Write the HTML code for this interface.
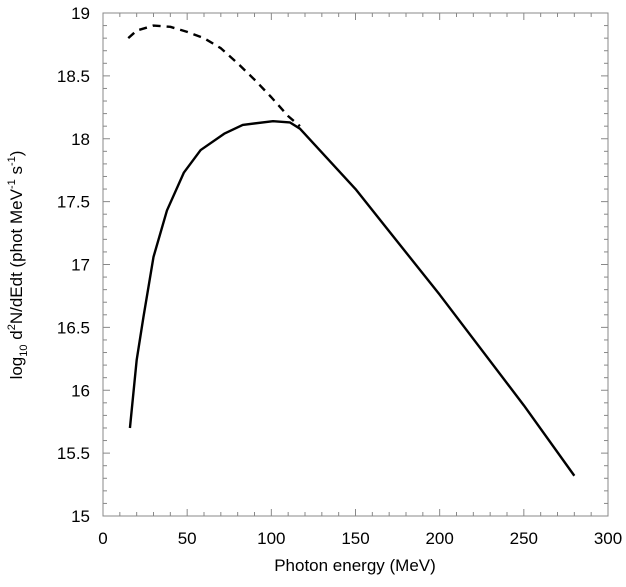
<!DOCTYPE html>
<html><head><meta charset="utf-8"><style>
body{margin:0;background:#fff;}
svg text{font-family:"Liberation Sans",Arial,sans-serif;fill:#000;}
</style></head><body>
<svg id="chart" width="626" height="582" viewBox="0 0 626 582">
<rect x="103" y="13" width="505" height="503" fill="none" stroke="#888" stroke-width="1"/>
<g id="ticks"></g>
<g id="marks"></g>
<text x="355" y="571" font-size="17" text-anchor="middle">Photon energy (MeV)</text>
<text transform="translate(22,265) rotate(-90)" font-size="17" text-anchor="middle">log<tspan font-size="11" dy="5">10</tspan><tspan dy="-5"> d</tspan><tspan font-size="11" dy="-7">2</tspan><tspan dy="7">N/dEdt (phot MeV</tspan><tspan font-size="11" dy="-7">-1</tspan><tspan dy="7"> s</tspan><tspan font-size="11" dy="-7">-1</tspan><tspan dy="7">)</tspan></text>
</svg>
<script>
const xTicks=[0,50,100,150,200,250,300];
const yTicks=[15,15.5,16,16.5,17,17.5,18,18.5,19];
const yTickLabels=["15","15.5","16","16.5","17","17.5","18","18.5","19"];
const solidE=[16,20,24,30,38,48,58,72,83,101,111,117,150,200,250,280];
const solidV=[15.7,16.24,16.58,17.06,17.43,17.73,17.91,18.04,18.11,18.14,18.13,18.08,17.6,16.76,15.88,15.32];
const dashE=[15,20,30,40,50,60,70,80,90,100,110,117];
const dashV=[18.8,18.86,18.9,18.89,18.85,18.8,18.72,18.6,18.47,18.33,18.18,18.1];
const X=e=>103+e*(505/300);
const Y=v=>516-(v-15)*(503/4);
const NS="http://www.w3.org/2000/svg";
const tk=document.getElementById('ticks'),mk=document.getElementById('marks');
function ln(x1,y1,x2,y2){const l=document.createElementNS(NS,'line');l.setAttribute('x1',x1);l.setAttribute('y1',y1);l.setAttribute('x2',x2);l.setAttribute('y2',y2);l.setAttribute('stroke','#888');


tk.appendChild(l);}
for(let e=0;e<=300;e+=10){const len=e%50===0?7:4;ln(X(e),516,X(e),516-len);ln(X(e),13,X(e),13+len);}
for(let i=0;i<=40;i++){const v=15+i*0.1;const len=i%5===0?7:4;ln(103,Y(v),103+len,Y(v));ln(608,Y(v),608-len,Y(v));}
xTicks.forEach(e=>{const t=document.createElementNS(NS,'text');t.setAttribute('x',X(e));t.setAttribute('y',544);t.setAttribute('font-size','17');t.setAttribute('text-anchor','middle');t.textContent=e;


tk.appendChild(t);});
yTicks.forEach((v,i)=>{const t=document.createElementNS(NS,'text');t.setAttribute('x',90);t.setAttribute('y',Y(v)+6);t.setAttribute('font-size','17');t.setAttribute('text-anchor','end');t.textContent=yTickLabels[i];


tk.appendChild(t);});
function path(E,V,dash,name){const p=document.createElementNS(NS,'polyline');p.setAttribute('points',E.map((e,i)=>X(e)+','+Y(V[i])).join(' '));p.setAttribute('fill','none');p.setAttribute('stroke','#000');p.setAttribute('stroke-width','2.4');p.setAttribute('stroke-linejoin','round');if(dash)p.setAttribute('stroke-dasharray','8,6');


mk.appendChild(p);}
path(dashE,dashV,true,'dashed-series');
path(solidE,solidV,false,'solid-series');
</script>
</body></html>
